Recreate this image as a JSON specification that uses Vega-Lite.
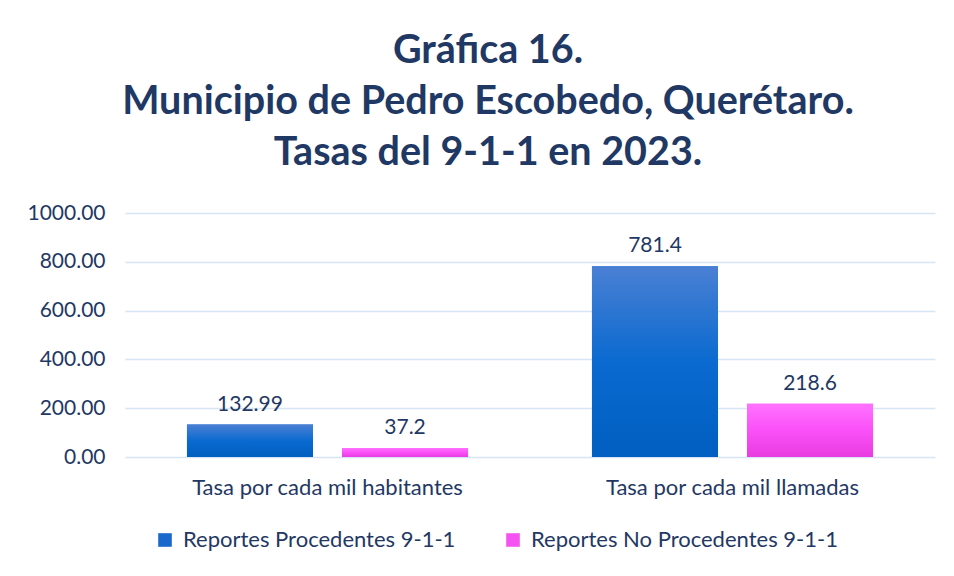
{
  "$schema": "https://vega.github.io/schema/vega-lite/v6.json",
  "width": 810,
  "height": 244,
  "autosize": "none",
  "padding": {"left": 125, "top": 213, "right": 19, "bottom": 119},
  "background": "white",
  "title": {
    "text": ["Gráfica 16.", "Municipio de Pedro Escobedo, Querétaro.", "Tasas del 9-1-1 en 2023."],
    "font": "Lato",
    "fontSize": 39.5,
    "fontWeight": "bold",
    "color": "#1F3864",
    "lineHeight": 51,
    "anchor": "middle",
    "dx": -42,
    "offset": 29
  },
  "data": {
    "values": [
      {"categoria": "Tasa por cada mil habitantes", "serie": "Reportes Procedentes 9-1-1", "valor": 132.99, "etiqueta": "132.99"},
      {"categoria": "Tasa por cada mil habitantes", "serie": "Reportes No Procedentes 9-1-1", "valor": 37.2, "etiqueta": "37.2"},
      {"categoria": "Tasa por cada mil llamadas", "serie": "Reportes Procedentes 9-1-1", "valor": 781.4, "etiqueta": "781.4"},
      {"categoria": "Tasa por cada mil llamadas", "serie": "Reportes No Procedentes 9-1-1", "valor": 218.6, "etiqueta": "218.6"}
    ]
  },
  "encoding": {
    "x": {
      "field": "categoria",
      "type": "nominal",
      "sort": null,
      "scale": {"paddingInner": 0.306, "paddingOuter": 0.153},
      "axis": {
        "title": null,
        "labelAngle": 0,
        "labelFont": "Lato",
        "labelFontSize": 22,
        "labelColor": "#1F3864",
        "labelPadding": 20,
        "labelLimit": 500,
        "ticks": false,
        "domain": false
      }
    },
    "xOffset": {
      "field": "serie",
      "type": "nominal",
      "sort": ["Reportes Procedentes 9-1-1", "Reportes No Procedentes 9-1-1"],
      "scale": {"domain": ["Reportes Procedentes 9-1-1", "Reportes No Procedentes 9-1-1"], "paddingInner": 0.187, "paddingOuter": 0}
    },
    "y": {
      "field": "valor",
      "type": "quantitative",
      "scale": {"domain": [0, 1000]},
      "axis": {
        "title": null,
        "values": [0, 200, 400, 600, 800, 1000],
        "format": ".2f",
        "labelFont": "Lato",
        "labelFontSize": 21,
        "labelColor": "#1F3864",
        "labelPadding": 20,
        "ticks": false,
        "domain": false,
        "grid": true,
        "gridColor": "#D6E4F4",
        "gridWidth": 1.6
      }
    }
  },
  "layer": [
    {
      "mark": {"type": "bar"},
      "encoding": {
        "color": {
          "field": "serie",
          "type": "nominal",
          "sort": ["Reportes Procedentes 9-1-1", "Reportes No Procedentes 9-1-1"],
          "scale": {"domain": ["Reportes Procedentes 9-1-1", "Reportes No Procedentes 9-1-1"], "range": ["#1A68CC", "#F552F2"]},
          "legend": {
            "title": null,
            "orient": "none",
            "legendX": 29,
            "legendY": 316,
            "direction": "horizontal",
            "symbolType": "square",
            "symbolSize": 185,
            "symbolStrokeWidth": 0,
            "symbolOpacity": 1,
            "labelFont": "Lato",
            "labelFontSize": 22,
            "labelColor": "#1F3864",
            "labelLimit": 500,
            "columnPadding": 46,
            "labelOffset": 7
          }
        }
      }
    },
    {
      "transform": [{"filter": "datum.serie === 'Reportes Procedentes 9-1-1'"}],
      "mark": {
        "type": "bar",
        "color": {"gradient": "linear", "x1": 0, "y1": 0, "x2": 0, "y2": 1, "stops": [{"offset": 0, "color": "#4A80D4"}, {"offset": 0.5, "color": "#0A6AD0"}, {"offset": 1, "color": "#005FC0"}]}
      }
    },
    {
      "transform": [{"filter": "datum.serie === 'Reportes No Procedentes 9-1-1'"}],
      "mark": {
        "type": "bar",
        "color": {"gradient": "linear", "x1": 0, "y1": 0, "x2": 0, "y2": 1, "stops": [{"offset": 0, "color": "#FF72FF"}, {"offset": 0.5, "color": "#FA50F8"}, {"offset": 1, "color": "#E83CE0"}]}
      }
    },
    {
      "mark": {"type": "text", "baseline": "bottom", "dy": -10, "font": "Lato", "fontSize": 21, "color": "#1F3864"},
      "encoding": {
        "text": {"field": "etiqueta", "type": "nominal"}
      }
    }
  ],
  "config": {"view": {"stroke": null}}
}
